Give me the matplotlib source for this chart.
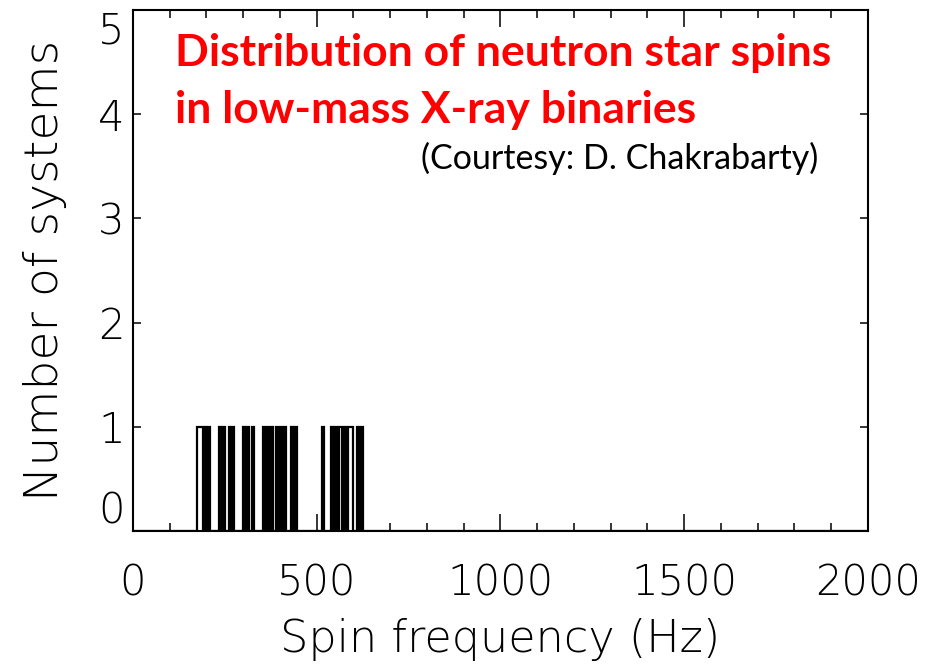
import numpy as np
import matplotlib
matplotlib.use("Agg")
import matplotlib.pyplot as plt
from matplotlib.ticker import MultipleLocator

# Spin frequencies (Hz) of neutron stars in LMXBs
spins = [177, 182, 187, 196, 206, 238, 248, 262, 272, 301, 311, 326,
         356, 366, 376, 393, 403, 413, 431, 441, 518,
         541, 551, 561, 568, 576, 586, 591, 596, 611, 621]
bin_width = 5  # Hz
x_ticks = [0, 500, 1000, 1500, 2000]
y_ticks = [0, 1, 2, 3, 4, 5]
title_lines = ["Distribution of neutron star spins", "in low-mass X-ray binaries"]
credit = "(Courtesy: D. Chakrabarty)"

W, H = 929, 665
fig = plt.figure(figsize=(W / 100, H / 100), dpi=100)
ax = fig.add_axes([133 / W, 1 - 531 / H, (868 - 133) / W, 521 / H])

bins = np.arange(0, 2000 + bin_width, bin_width)
ax.hist(spins, bins=bins, histtype="step", color="black", linewidth=1.6)

ax.set_xlim(0, 2000)
ax.set_ylim(0, 5)
for s in ax.spines.values():
    s.set_linewidth(1.5)

tick_font = dict(family="DejaVu Sans", size=30, weight="light")
ax.set_xticks(x_ticks)
ax.set_xticklabels([str(v) for v in x_ticks], **tick_font)
ax.xaxis.set_minor_locator(MultipleLocator(100))
ax.set_yticks(y_ticks)
ylabs = ax.set_yticklabels([str(v) for v in y_ticks], **tick_font)
ylabs[0].set_va("bottom")
ylabs[-1].set_va("top")

ax.tick_params(axis="x", which="major", direction="in", length=12, width=1.1,
               top=True, pad=23)
ax.tick_params(axis="x", which="minor", direction="in", length=5.5, width=1.1,
               top=True)
ax.tick_params(axis="y", which="major", direction="in", length=5.5, width=1.1,
               right=True, pad=6)

ax.set_xlabel("Spin frequency (Hz)", labelpad=10, family="DejaVu Sans",
              size=32, weight="light")
ax.set_ylabel("Number of systems", labelpad=22, family="DejaVu Sans",
              size=34, weight="light")

fig.text(175 / W, 1 - 53 / H, title_lines[0], color="#ff0000", fontweight="bold",
         family="Lato", size=32, va="center", ha="left")
fig.text(175 / W, 1 - 110 / H, title_lines[1], color="#ff0000", fontweight="bold",
         family="Lato", size=32, va="center", ha="left")
fig.text(818 / W, 1 - 158 / H, credit, color="black", family="Lato",
         size=24.5, va="center", ha="right")

fig.savefig("out.png", dpi=100)
